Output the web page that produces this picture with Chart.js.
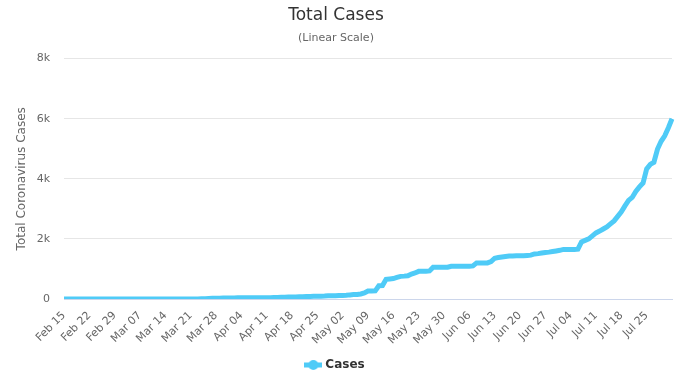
<!DOCTYPE html>
<html>
<head>
<meta charset="utf-8">
<script src="https://cdn.jsdelivr.net/npm/chart.js@4/dist/chart.umd.min.js"></script>
<style>
  html, body { margin: 0; padding: 0; background: #fff; }
  #wrap { width: 682px; height: 381px; }
</style>
</head>
<body>
<div id="wrap"><canvas id="chart"></canvas></div>
<script>
// month name, first day, last day (Feb 15 -> Aug 1)
const months = [['Feb', 15, 29], ['Mar', 1, 31], ['Apr', 1, 30], ['May', 1, 31], ['Jun', 1, 30], ['Jul', 1, 31], ['Aug', 1, 1]];

const dates = [];
months.forEach(([m, a, b]) => {
  for (let d = a; d <= b; d++) dates.push(m + ' ' + String(d).padStart(2, '0'));
});

const cases = [
  0, 0, 0, 0, 0, 0, 0, 0, 0, 0, 0, 0, 0, 0, 0, 0,
  0, 0, 0, 0, 0, 0, 0, 0, 0, 0, 0, 0, 0, 0, 0, 0,
  2, 2, 2, 3, 3, 3, 12, 12, 16, 22, 28, 29, 35, 35, 35, 36,
  39, 39, 39, 39, 39, 40, 40, 43, 45, 45, 48, 52, 57, 61, 65, 65,
  70, 74, 76, 84, 84, 88, 89, 95, 97, 106, 109, 109, 119, 119, 124, 137,
  146, 153, 167, 200, 267, 267, 270, 441, 446, 654, 668, 679, 720, 753, 761, 772,
  832, 866, 920, 920, 920, 935, 1057, 1057, 1057, 1057, 1057, 1089, 1089, 1089, 1089, 1089,
  1089, 1100, 1200, 1200, 1200, 1200, 1245, 1357, 1380, 1400, 1416, 1430, 1430, 1440, 1440, 1440,
  1450, 1460, 1500, 1510, 1530, 1550, 1560, 1580, 1600, 1620, 1650, 1650, 1650, 1650, 1660, 1900,
  1950, 2000, 2100, 2200, 2260, 2330, 2400, 2500, 2600, 2750, 2900, 3100, 3280, 3380, 3580, 3730,
  3860, 4330, 4480, 4550, 4990, 5250, 5430, 5700, 6000
];

const yTicks = [0, 2000, 4000, 6000, 8000];

const lineColor = '#4fcbf7';
const font = '"DejaVu Sans", "Lucida Grande", Arial, sans-serif';

// legend symbol: short thick line with a dot on it
const sym = document.createElement('canvas');
sym.width = 18; sym.height = 12;
const sc = sym.getContext('2d');
sc.strokeStyle = lineColor; sc.lineWidth = 5;
sc.beginPath(); sc.moveTo(0, 6); sc.lineTo(18, 6); sc.stroke();
sc.fillStyle = lineColor;
sc.beginPath(); sc.arc(9, 6, 5, 0, Math.PI * 2); sc.fill();

const ctx = document.getElementById('chart').getContext('2d');
new Chart(ctx, {
  type: 'line',
  data: {
    labels: dates,
    datasets: [{
      label: 'Cases',
      data: cases,
      borderColor: lineColor,
      backgroundColor: lineColor,
      borderWidth: 5,
      pointRadius: 0,
      pointHoverRadius: 0,
      pointStyle: sym,
      tension: 0
    }]
  },
  options: {
    responsive: true,
    maintainAspectRatio: false,
    animation: false,
    layout: { padding: { left: 0, right: 10, top: 0, bottom: 0 } },
    plugins: {
      title: {
        display: true,
        text: 'Total Cases',
        color: '#333333',
        font: { family: font, size: 17, weight: 'normal' },
        padding: { top: 5, bottom: 0 }
      },
      subtitle: {
        display: true,
        text: '(Linear Scale)',
        color: '#666666',
        font: { family: font, size: 11 },
        padding: { top: 6, bottom: 14 }
      },
      legend: {
        position: 'bottom',
        labels: {
          usePointStyle: true,
          color: '#333333',
          font: { family: font, size: 12, weight: 'bold' },
          padding: 8
        }
      },
      tooltip: { enabled: false }
    },
    scales: {
      x: {
        offset: false,
        grid: { display: false },
        border: { display: true, color: '#ccd6eb' },
        ticks: {
          autoSkip: false,
          minRotation: 45,
          maxRotation: 45,
          color: '#666666',
          font: { family: font, size: 11 },
          padding: 2,
          callback: function (v, i) { return (i % 7 === 0 && i < 165) ? dates[i] : null; }
        },
        afterFit: function (s) { s.height = 52; }
      },
      y: {
        min: 0,
        max: 8000,
        border: { display: false },
        grid: { color: '#e6e6e6', drawTicks: false },
        afterBuildTicks: function (s) { s.ticks = yTicks.map(v => ({ value: v })); },
        ticks: {
          color: '#666666',
          font: { family: font, size: 11 },
          padding: 14,
          callback: function (v) { return v === 0 ? '0' : (v / 1000) + 'k'; }
        },
        title: {
          display: true,
          text: 'Total Coronavirus Cases',
          color: '#666666',
          font: { family: font, size: 12 },
          padding: { top: 15, bottom: 0 }
        },
        afterFit: function (s) { s.width = 64; }
      }
    }
  }
});
</script>
</body>
</html>
